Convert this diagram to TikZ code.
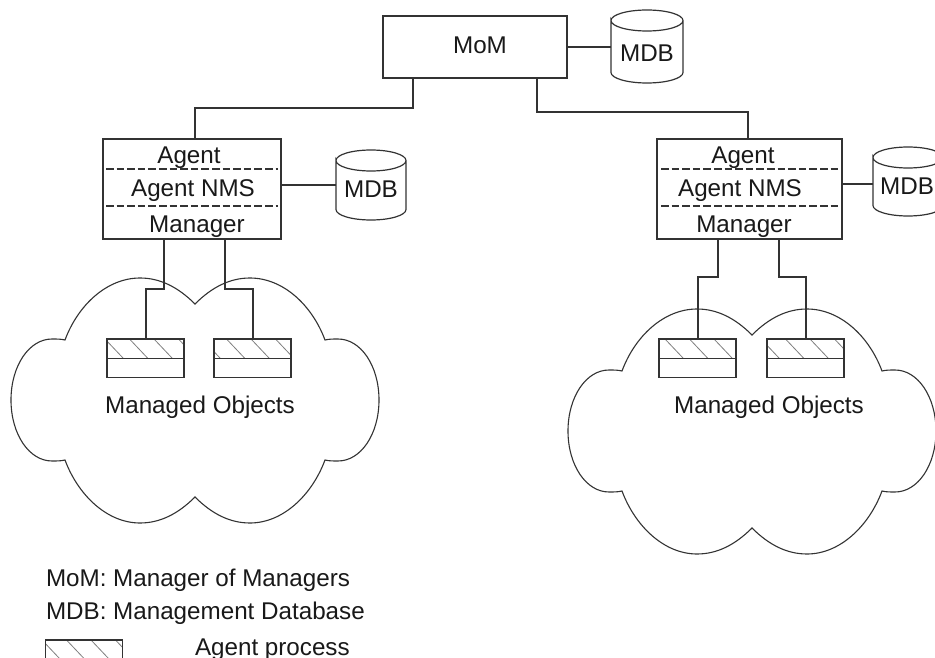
\documentclass[tikz,border=0pt]{standalone}
\usepackage{fontspec}
\setmainfont{Liberation Sans}
\definecolor{ink}{gray}{0.2}
\tikzset{
  every node/.style={inner sep=0pt,outer sep=0pt},
  wire/.style={draw=ink,line width=1.2pt,line join=miter},
  boxnode/.style={draw=ink,line width=1.2pt,anchor=north west},
  txt/.style={anchor=base,font=\fontsize{24.2}{28}\selectfont,text=black!90},
  txtl/.style={txt,anchor=base west},
  sep/.style={draw=ink,line width=1.1pt,dash pattern=on 7.6pt off 3pt},
  hatch/.style={draw=black!50,line width=0.8pt},
  cloudline/.style={draw=ink,line width=1.1pt},
}
% small process box: name, x, y, first hatch x at top
\newcommand{\procbox}[4]{%
  \begin{scope}
    \clip (#2,#3) rectangle ++(77,19);
    \foreach \k in {-1,0,1,2,3,4}
      \draw[hatch] ({#4+24.5*\k},#3) -- ++(18,19);
  \end{scope}
  \node[boxnode,minimum width=77pt,minimum height=38.5pt] (#1) at (#2,#3) {};
  \draw[wire] (#1.west) -- (#1.east);
}
% database cylinder: name, x left, y top, width, height
\newcommand{\dbcyl}[5]{%
  \node[minimum width=#4pt,minimum height=#5pt,anchor=north west] (#1) at (#2,#3) {};
  \draw[wire] (#1.north west) ++(0,10.5)
    arc[start angle=180,end angle=540,x radius=#4/2,y radius=10.5]
    -- ++(0,{#5-21}) arc[start angle=180,end angle=0,x radius=#4/2,y radius=10.5]
    -- ++(0,{-(#5-21)});
}
\newcommand{\cloudshape}{%
  (195,304) .. controls (212,287) and (230,278) .. (250,278)
  .. controls (283,278) and (312,305) .. (325,340)
  .. controls (329,339) and (333,339) .. (338,339)
  .. controls (361,339) and (379,366) .. (379,400)
  .. controls (379,434) and (361,461) .. (338,461)
  .. controls (333,461) and (329,461) .. (325,460)
  .. controls (312,495) and (283,523) .. (250,523)
  .. controls (230,523) and (212,514) .. (195,497)
  .. controls (178,514) and (160,523) .. (140,523)
  .. controls (107,523) and (78,495) .. (65,460)
  .. controls (61,461) and (57,461) .. (52,461)
  .. controls (29,461) and (11,434) .. (11,400)
  .. controls (11,366) and (29,339) .. (52,339)
  .. controls (57,339) and (61,339) .. (65,340)
  .. controls (78,305) and (107,278) .. (140,278)
  .. controls (160,278) and (178,287) .. cycle
}
\begin{document}
\begin{tikzpicture}[x=1pt,y=-1pt]
\useasboundingbox (0,0) rectangle (935,658);
\fill[white] (0,0) rectangle (935,658);
\clip (0,0) rectangle (935,658);

% clouds
\draw[cloudline] \cloudshape;
\begin{scope}[shift={(557,31)}]
  \draw[cloudline] \cloudshape;
\end{scope}

% MoM
\node[boxnode,minimum width=184pt,minimum height=62pt] (mom) at (383,16) {};
\node[txt] (momt) at (480,53.5) {MoM};
\dbcyl{dbm}{611}{10}{72}{73}
\node[txt] (dbmt) at (647,61.5) {MDB};
\draw[wire] ([yshift=-0.5pt]dbm.west -| mom.east) -- ([yshift=-0.5pt]dbm.west);

% left agent
\node[boxnode,minimum width=178pt,minimum height=100pt] (agl) at (103,139) {};
\node[txt] (aglA) at (189,163.5) {Agent};
\node[txt] (aglN) at (193,196.5) {Agent NMS};
\node[txt] (aglM) at (197,232.5) {Manager};
\draw[sep] (106,169) -- (278,169);
\draw[sep] (106,206) -- (278,206);
\dbcyl{dbl}{336}{150}{70}{70}
\node[txt] (dblt) at (371,197.5) {MDB};
\draw[wire] (dbl.west -| agl.east) -- (dbl.west);

% right agent
\node[boxnode,minimum width=185pt,minimum height=100pt] (agr) at (657,139) {};
\node[txt] (agrA) at (743,163.5) {Agent};
\node[txt] (agrN) at (740,196.5) {Agent NMS};
\node[txt] (agrM) at (744,232.5) {Manager};
\draw[sep] (661,169) -- (842,169);
\draw[sep] (661,206) -- (842,206);
\dbcyl{dbr}{873}{147}{70}{69}
\node[txt] (dbrt) at (907,194.5) {MDB};
\draw[wire] ([yshift=-2.5pt]dbr.west -| agr.east) -- ([yshift=-2.5pt]dbr.west);

% process boxes
\procbox{pl1}{107}{339}{105}
\procbox{pl2}{214}{339}{202}
\procbox{pr1}{659}{339}{665}
\procbox{pr2}{767}{339}{761}

% connectors
\coordinate (busl) at (413,108);
\coordinate (busr) at (537,112);
\coordinate (agltop) at (195,108);
\coordinate (agrtop) at (748,112);
\draw[wire] (busl |- mom.south) -- (busl) -- (agltop) -- (agltop |- agl.north);
\draw[wire] (busr |- mom.south) -- (busr) -- (agrtop) -- (agrtop |- agr.north);

\coordinate (l1) at (164,289);
\coordinate (l2) at (225,289);
\coordinate (r1) at (718,277);
\coordinate (r2) at (779,277);
\draw[wire] (l1 |- agl.south) -- (l1) -| ([xshift=0.5pt]pl1.north);
\draw[wire] (l2 |- agl.south) -- (l2) -| ([xshift=0.5pt]pl2.north);
\draw[wire] (r1 |- agr.south) -- (r1) -| ([xshift=0.5pt]pr1.north);
\draw[wire] (r2 |- agr.south) -- (r2) -| ([xshift=0.5pt]pr2.north);

\node[txt] (mol) at (200,413.5) {Managed Objects};
\node[txt] (mor) at (769,413.5) {Managed Objects};

% legend
\node[txtl] (lg1) at (46,586.5) {MoM: Manager of Managers};
\node[txtl] (lg2) at (46,619.5) {MDB: Management Database};
\procbox{lgb}{45.5}{640}{42}
\node[txtl] (lg3) at (195,655.5) {Agent process};
\end{tikzpicture}
\end{document}
